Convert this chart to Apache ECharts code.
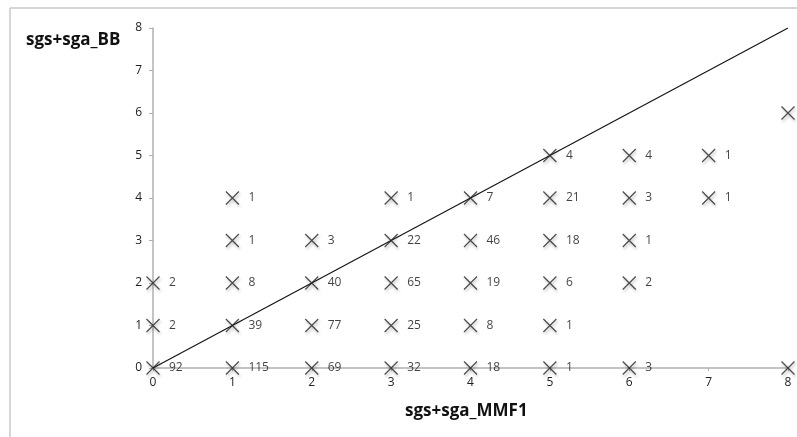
<!DOCTYPE html>
<html><head><meta charset="utf-8">
<script src="https://cdn.jsdelivr.net/npm/echarts@6/dist/echarts.min.js"></script>
<style>html,body{margin:0;padding:0;background:#fff}#c{width:797px;height:437px}</style>
</head><body><div id="c"></div>
<script>
var xVals = [0,1,2,3,4,5,6,8, 0,1,2,3,4,5, 0,1,2,3,4,5,6, 1,2,3,4,5,6, 1,3,4,5,6,7, 5,6,7, 8];
var yVals = [0,0,0,0,0,0,0,0, 1,1,1,1,1,1, 2,2,2,2,2,2,2, 3,3,3,3,3,3, 4,4,4,4,4,4, 5,5,5, 6];
var counts = [92,115,69,32,18,1,3,'', 2,39,77,25,8,1, 2,8,40,65,19,6,2, 1,3,22,46,18,1, 1,1,7,21,3,1, 4,4,1, ''];
var lineX = [0,8];
var lineY = [0,8];
var xTitle = 'sgs+sga_MMF1';
var yTitle = 'sgs+sga_BB';

var pts = xVals.map(function(x,i){ return [x, yVals[i], counts[i]]; });
var linePts = lineX.map(function(x,i){ return [x, lineY[i]]; });

var chart = echarts.init(document.getElementById('c'), null, {renderer:'canvas'});
chart.setOption({
  animation:false,
  backgroundColor:'#fff',
  grid:{left:153, right:9, top:28, bottom:69, containLabel:false},
  xAxis:{type:'value', min:0, max:8, interval:1,
    axisLine:{show:true, onZero:false, lineStyle:{color:'#b0b0b0', width:1.5}},
    axisTick:{show:true, inside:false, length:3, lineStyle:{color:'#b0b0b0'}},
    splitLine:{show:false},
    axisLabel:{color:'#222', fontSize:12, fontFamily:'"Open Sans", sans-serif', margin:9}},
  yAxis:{type:'value', min:0, max:8, interval:1,
    axisLine:{show:true, onZero:false, lineStyle:{color:'#b0b0b0', width:1.5}},
    axisTick:{show:true, inside:false, length:4, lineStyle:{color:'#b0b0b0'}},
    splitLine:{show:false},
    axisLabel:{color:'#222', fontSize:12, fontFamily:'"Open Sans", sans-serif', margin:11}},
  graphic:[
    {type:'line', shape:{x1:10, y1:8, x2:797, y2:8}, style:{stroke:'#c8c8c8', lineWidth:1.5}, silent:true},
    {type:'line', shape:{x1:10, y1:8, x2:10, y2:437}, style:{stroke:'#c8c8c8', lineWidth:1.5}, silent:true},
    {type:'text', left:26, top:32, style:{text:yTitle, font:'bold 17px "Open Sans", sans-serif', fill:'#111'}},
    {type:'text', left:405, top:403, style:{text:xTitle, font:'bold 17px "Open Sans", sans-serif', fill:'#111'}}
  ],
  series:[
    {type:'line', data:linePts, symbol:'none', lineStyle:{color:'#111', width:1.1}, z:1},
    {type:'scatter', data:pts, z:3,
      symbol:'path://M0,0L10,10M10,0L0,10', symbolSize:13,
      itemStyle:{color:'none', borderColor:'#222', borderWidth:1.2,
        shadowColor:'rgba(0,0,0,0.35)', shadowBlur:3, shadowOffsetX:1, shadowOffsetY:2},
      label:{show:true, position:'right', distance:7, color:'#111', fontSize:12,
        fontFamily:'"Open Sans", sans-serif',
        formatter:function(p){ return p.value[2]; }}
    }
  ]
});
</script></body></html>
